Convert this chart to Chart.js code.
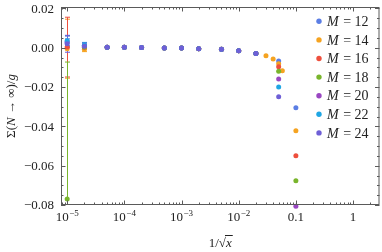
<!DOCTYPE html>
<html>
<head>
<meta charset="utf-8">
<script src="https://cdn.jsdelivr.net/npm/chart.js@4/dist/chart.umd.min.js"></script>
<style>
  html, body { margin: 0; padding: 0; background: #fff; }
  #wrap { width: 382px; height: 252px; }
</style>
</head>
<body>
<div id="wrap"><canvas id="chart" width="382" height="252"></canvas></div>
<script>
// axis ticks
const xTicks = [1e-5, 1e-4, 1e-3, 1e-2, 1e-1, 1];
const xTickBase = ["10", "10", "10", "10", "0.1", "1"];
const xTickExp = ["\u22125", "\u22124", "\u22123", "\u22122", "", ""];
const yTicks = [-0.08, -0.06, -0.04, -0.02, 0, 0.02];
const yTickLabels = ["\u22120.08", "\u22120.06", "\u22120.04", "\u22120.02", "0.00", "0.02"];

// series
const mValues = [12, 14, 16, 18, 20, 22, 24];
const colors = ["#5b7ee4", "#f5a321", "#ee4f3d", "#79b52c", "#9a47c2", "#1fa6e4", "#6e5fd6"];

const x12 = [1e-5, 2e-5, 5e-5, 1e-4, 2e-4, 5e-4, 1e-3, 2e-3, 5e-3, 1e-2, 2e-2, 5e-2, 1e-1];
const y12 = [0.0025, 0.001, 0.0002, 0.0002, 0.0001, -0.0001, -0.0002, -0.0005, -0.0008, -0.0015, -0.0029, -0.0068, -0.0305];
const e12 = [0.002, 0.0015, 0, 0, 0, 0, 0, 0, 0, 0, 0, 0, 0];

const x14 = [1e-5, 2e-5, 5e-5, 1e-4, 2e-4, 5e-4, 1e-3, 2e-3, 5e-3, 1e-2, 2e-2, 0.03, 0.04, 5e-2, 0.058, 1e-1];
const y14 = [-0.0005, -0.0008, 0.0002, 0.0002, 0.0001, -0.0001, -0.0002, -0.0005, -0.0008, -0.0015, -0.0029, -0.0041, -0.0057, -0.0081, -0.0117, -0.0422];
const e14 = [0.015, 0.0012, 0, 0, 0, 0, 0, 0, 0, 0, 0, 0, 0, 0, 0, 0];

const x16 = [1e-5, 2e-5, 5e-5, 1e-4, 2e-4, 5e-4, 1e-3, 2e-3, 5e-3, 1e-2, 2e-2, 5e-2, 1e-1];
const y16 = [0.0003, 0.0002, 0.0002, 0.0002, 0.0001, -0.0001, -0.0002, -0.0005, -0.0008, -0.0015, -0.0029, -0.0097, -0.055];
const e16 = [0.0152, 0.0012, 0, 0, 0, 0, 0, 0, 0, 0, 0, 0, 0];

const x18 = [1e-5, 2e-5, 5e-5, 1e-4, 2e-4, 5e-4, 1e-3, 2e-3, 5e-3, 1e-2, 2e-2, 5e-2, 1e-1];
const y18 = [-0.077, 0.0003, 0.0002, 0.0002, 0.0001, -0.0001, -0.0002, -0.0005, -0.0008, -0.0015, -0.0029, -0.012, -0.0677];
const e18 = [0.0697, 0.001, 0, 0, 0, 0, 0, 0, 0, 0, 0, 0, 0];

const x20 = [1e-5, 2e-5, 5e-5, 1e-4, 2e-4, 5e-4, 1e-3, 2e-3, 5e-3, 1e-2, 2e-2, 5e-2, 1e-1];
const y20 = [0.003, 0.001, 0.0002, 0.0002, 0.0001, -0.0001, -0.0002, -0.0005, -0.0008, -0.0015, -0.0029, -0.0159, -0.0806];
const e20 = [0.003, 0.0015, 0, 0, 0, 0, 0, 0, 0, 0, 0, 0, 0];

const x22 = [1e-5, 2e-5, 5e-5, 1e-4, 2e-4, 5e-4, 1e-3, 2e-3, 5e-3, 1e-2, 2e-2, 5e-2];
const y22 = [0.0035, 0.0012, 0.0002, 0.0002, 0.0001, -0.0001, -0.0002, -0.0005, -0.0008, -0.0015, -0.0029, -0.020];
const e22 = [0.0025, 0.0015, 0, 0, 0, 0, 0, 0, 0, 0, 0, 0];

const x24 = [1e-5, 2e-5, 5e-5, 1e-4, 2e-4, 5e-4, 1e-3, 2e-3, 5e-3, 1e-2, 2e-2, 5e-2];
const y24 = [0.002, 0.0008, 0.0002, 0.0002, 0.0001, -0.0001, -0.0002, -0.0005, -0.0008, -0.0015, -0.0029, -0.0249];
const e24 = [0.0043, 0.0015, 0, 0, 0, 0, 0, 0, 0, 0, 0, 0];

const allX = [x12, x14, x16, x18, x20, x22, x24];
const allY = [y12, y14, y16, y18, y20, y22, y24];
const allErr = [e12, e14, e16, e18, e20, e22, e24];

const SERIF = "'Liberation Serif', 'DejaVu Serif', serif";
const FRAME = "#5a5a5a";

// later series sit on top, like the original
const datasets = mValues.map((m, i) => ({
  label: "M = " + m,
  data: allX[i].map((xv, j) => ({ x: xv, y: allY[i][j] })),
  err: allErr[i],
  order: mValues.length - i,
  backgroundColor: colors[i],
  borderColor: colors[i],
  pointRadius: 2.5,
  pointHoverRadius: 2.5,
  pointBorderWidth: 0,
  showLine: false,
  clip: 4,
}));

// error bars, under the points
const errorBars = {
  id: "errorBars",
  beforeDatasetsDraw(chart) {
    const { ctx, chartArea: a, scales } = chart;
    ctx.save();
    ctx.beginPath();
    ctx.rect(a.left, a.top, a.right - a.left, a.bottom - a.top);
    ctx.clip();
    chart.data.datasets.forEach((ds) => {
      ctx.strokeStyle = ds.borderColor;
      ctx.lineWidth = 1;
      ds.data.forEach((p, i) => {
        const e = ds.err[i];
        if (!e) return;
        const px = Math.round(scales.x.getPixelForValue(p.x)) + 0.5;
        const t = scales.y.getPixelForValue(p.y + e);
        const b = scales.y.getPixelForValue(p.y - e);
        ctx.beginPath();
        ctx.moveTo(px, t);
        ctx.lineTo(px, b);
        ctx.moveTo(px - 2.5, t);
        ctx.lineTo(px + 2.5, t);
        ctx.moveTo(px - 2.5, b);
        ctx.lineTo(px + 2.5, b);
        ctx.stroke();
      });
    });
    ctx.restore();
  },
};

// frame, inward ticks, labels, titles, legend
const decor = {
  id: "decor",
  afterDraw(chart) {
    const { ctx, chartArea: a, scales } = chart;
    const xs = scales.x, ys = scales.y;
    ctx.save();
    ctx.strokeStyle = FRAME;
    ctx.lineWidth = 1;
    ctx.strokeRect(a.left + 0.5, a.top + 0.5, a.right - a.left - 1, a.bottom - a.top - 1);

    // x ticks (top + bottom)
    ctx.beginPath();
    for (let e = -6; e <= 0; e++) {
      for (let k = 1; k <= 9; k++) {
        const v = k * Math.pow(10, e);
        if (v < xs.min || v > xs.max) continue;
        const px = Math.round(xs.getPixelForValue(v)) + 0.5;
        const len = k === 1 ? 4.5 : 2.5;
        ctx.moveTo(px, a.bottom);
        ctx.lineTo(px, a.bottom - len);
        ctx.moveTo(px, a.top);
        ctx.lineTo(px, a.top + len);
      }
    }
    // y ticks (left + right)
    for (let i = 0; i <= 20; i++) {
      const v = -0.08 + i * 0.005;
      const py = Math.round(ys.getPixelForValue(v)) + 0.5;
      const len = i % 4 === 0 ? 4.5 : 2.5;
      ctx.moveTo(a.left, py);
      ctx.lineTo(a.left + len, py);
      ctx.moveTo(a.right, py);
      ctx.lineTo(a.right - len, py);
    }
    ctx.stroke();

    ctx.fillStyle = "#222";
    // y tick labels
    ctx.font = "13px " + SERIF;
    ctx.textAlign = "right";
    ctx.textBaseline = "middle";
    yTicks.forEach((v, i) => {
      ctx.fillText(yTickLabels[i], a.left - 7, ys.getPixelForValue(v) + 1);
    });

    // x tick labels with superscripts
    ctx.textBaseline = "alphabetic";
    ctx.textAlign = "left";
    xTicks.forEach((v, i) => {
      const px = xs.getPixelForValue(v);
      ctx.font = "13px " + SERIF;
      const w1 = ctx.measureText(xTickBase[i]).width;
      ctx.font = "9px " + SERIF;
      const w2 = xTickExp[i] ? ctx.measureText(xTickExp[i]).width + 0.5 : 0;
      const x0 = px - (w1 + w2) / 2;
      const base = a.bottom + 16;
      ctx.font = "13px " + SERIF;
      ctx.fillText(xTickBase[i], x0, base);
      if (xTickExp[i]) {
        ctx.font = "9px " + SERIF;
        ctx.fillText(xTickExp[i], x0 + w1 + 0.5, base - 5);
      }
    });

    // x title: 1/sqrt(x)
    {
      const cx = (a.left + a.right) / 2;
      const base = 247;
      ctx.font = "13px " + SERIF;
      const p1 = "1/\u221A";
      const w1 = ctx.measureText(p1).width;
      ctx.font = "italic 13px " + SERIF;
      const w2 = ctx.measureText("x").width;
      const x0 = cx - (w1 + w2) / 2;
      ctx.font = "13px " + SERIF;
      ctx.fillText(p1, x0, base);
      ctx.font = "italic 13px " + SERIF;
      ctx.fillText("x", x0 + w1, base);
      ctx.beginPath();
      ctx.strokeStyle = "#222";
      ctx.moveTo(x0 + w1 - 1, base - 11.5);
      ctx.lineTo(x0 + w1 + w2 + 1, base - 11.5);
      ctx.stroke();
    }

    // y title: Σ(N → ∞)/g
    {
      const parts = [["\u03A3(", ""], ["N", "italic "], [" \u2192 \u221E)/", ""], ["g", "italic "]];
      ctx.save();
      ctx.translate(15, (a.top + a.bottom) / 2);
      ctx.rotate(-Math.PI / 2);
      let total = 0;
      parts.forEach((p) => {
        ctx.font = p[1] + "13px " + SERIF;
        total += ctx.measureText(p[0]).width;
      });
      let xx = -total / 2;
      parts.forEach((p) => {
        ctx.font = p[1] + "13px " + SERIF;
        ctx.fillText(p[0], xx, 0);
        xx += ctx.measureText(p[0]).width;
      });
      ctx.restore();
    }

    // legend
    mValues.forEach((m, i) => {
      const ly = 21.3 + i * 18.6;
      ctx.beginPath();
      ctx.fillStyle = colors[i];
      ctx.arc(319, ly, 2.7, 0, Math.PI * 2);
      ctx.fill();
      ctx.fillStyle = "#222";
      ctx.textBaseline = "middle";
      ctx.font = "italic 14px " + SERIF;
      ctx.fillText("M", 327, ly + 1);
      const wm = ctx.measureText("M").width;
      ctx.font = "14px " + SERIF;
      ctx.fillText(" = " + m, 327 + wm + 1, ly + 1);
    });
    ctx.restore();
  },
};

new Chart(document.getElementById("chart"), {
  type: "scatter",
  data: { datasets },
  options: {
    responsive: false,
    animation: false,
    events: [],
    layout: { padding: { left: 0, right: 2, top: 7, bottom: 0 } },
    plugins: { legend: { display: false }, tooltip: { enabled: false } },
    scales: {
      x: {
        type: "logarithmic",
        min: 7.8e-6,
        max: 2.9,
        grid: { display: false },
        border: { display: false },
        ticks: { display: false },
        afterBuildTicks: (s) => { s.ticks = xTicks.map((v) => ({ value: v })); },
        afterFit: (s) => { s.height = 47; },
      },
      y: {
        min: -0.08,
        max: 0.0207,
        grid: { display: false },
        border: { display: false },
        ticks: { display: false },
        afterBuildTicks: (s) => { s.ticks = yTicks.map((v) => ({ value: v })); },
        afterFit: (s) => { s.width = 61; },
      },
    },
  },
  plugins: [errorBars, decor],
});
</script>
</body>
</html>
